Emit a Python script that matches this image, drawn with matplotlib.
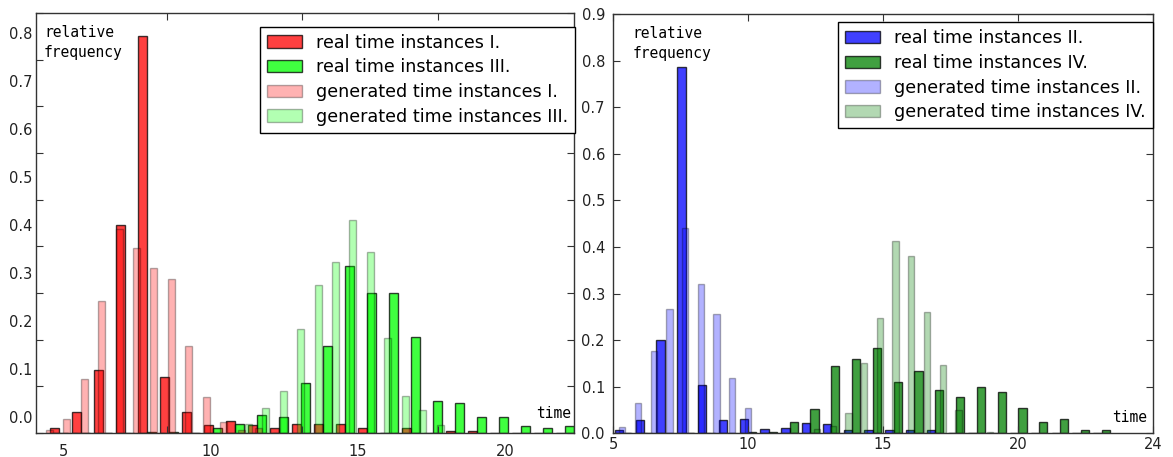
import numpy as np
import matplotlib
matplotlib.use("Agg")
import matplotlib.pyplot as plt

# ---------------- data ----------------
# left panel: real I / real III histograms (24 bins)
left_real_start, left_real_stop = 5.62, 25.08
real_I = [0.010, 0.044, 0.134, 0.446, 0.851, 0.1195, 0.044, 0.016, 0.025, 0.016,
          0.010, 0.019, 0.019, 0.019, 0.011, 0.0, 0.011, 0.0, 0.004, 0.004,
          0.0, 0.0, 0.0, 0.0]
real_III = [0.0, 0.0, 0.0, 0.0, 0.002, 0.002, 0.0, 0.010, 0.019, 0.038,
            0.034, 0.106, 0.186, 0.358, 0.300, 0.300, 0.206, 0.068, 0.063, 0.033,
            0.033, 0.0144, 0.0094, 0.0144]
# left panel: generated I / generated III histograms (24 bins)
left_gen_start, left_gen_stop = 5.48, 20.91
gen_I = [0.006, 0.030, 0.115, 0.283, 0.437, 0.396, 0.353, 0.330, 0.185, 0.077,
         0.024, 0.005, 0.010, 0.0, 0.0, 0.0, 0.0, 0.0, 0.0, 0.0,
         0.0, 0.0, 0.0, 0.0]
gen_III = [0.0, 0.0, 0.0, 0.0, 0.0, 0.0, 0.0, 0.0, 0.0, 0.0,
           0.0, 0.019, 0.054, 0.090, 0.222, 0.317, 0.366, 0.456, 0.388, 0.203,
           0.079, 0.049, 0.0165, 0.0]

# right panel: real II / real IV histograms (24 bins)
right_real_start, right_real_stop = 4.98, 23.48
real_II = [0.007, 0.028, 0.200, 0.787, 0.103, 0.028, 0.031, 0.010, 0.012, 0.023,
           0.019, 0.007, 0.007, 0.007, 0.007, 0.007, 0.0, 0.0, 0.0, 0.0,
           0.0, 0.0, 0.0, 0.0]
real_IV = [0.0, 0.0, 0.0, 0.0, 0.0, 0.0, 0.003, 0.003, 0.024, 0.052,
           0.144, 0.159, 0.184, 0.111, 0.134, 0.093, 0.078, 0.0987, 0.089, 0.054,
           0.0236, 0.0307, 0.007, 0.007]
# right panel: generated II / generated IV histograms (24 bins)
right_gen_start, right_gen_stop = 5.16, 19.13
gen_II = [0.014, 0.064, 0.177, 0.266, 0.440, 0.320, 0.255, 0.119, 0.054, 0.0,
          0.0, 0.0, 0.0, 0.0, 0.0, 0.0, 0.0, 0.0, 0.0, 0.0,
          0.0, 0.0, 0.0, 0.0]
gen_IV = [0.0, 0.0, 0.0, 0.0, 0.0, 0.0, 0.0, 0.0, 0.0, 0.0,
          0.0, 0.0, 0.010, 0.015, 0.044, 0.151, 0.247, 0.412, 0.380, 0.260,
          0.146, 0.050, 0.0, 0.002]

left_labels = ["real time instances I.", "real time instances III.",
               "generated time instances I.", "generated time instances III."]
right_labels = ["real time instances II.", "real time instances IV.",
                "generated time instances II.", "generated time instances IV."]

left_xtick_vals = [5, 10, 15, 20]
left_ytick_vals = [0.0, 0.1, 0.2, 0.3, 0.4, 0.5, 0.6, 0.7, 0.8]
right_xtick_vals = [5, 10, 15, 20, 25]
right_xtick_labels = ["5", "10", "15", "20", "24"]
right_ytick_vals = [0.0, 0.1, 0.2, 0.3, 0.4, 0.5, 0.6, 0.7, 0.8, 0.9]

# ---------------- figure ----------------
W, H = 1173, 457
fig = plt.figure(figsize=(W / 100, H / 100), dpi=100)
fig.patch.set_facecolor("white")


def px_rect(x0, y0, x1, y1):
    return [x0 / W, 1 - y1 / H, (x1 - x0) / W, (y1 - y0) / H]


def draw_hists(ax, start, stop, h1, h2, c1, c2, alpha, labels):
    edges = np.linspace(start, stop, len(h1) + 1)
    mids = 0.5 * (edges[:-1] + edges[1:])
    ax.hist([mids, mids], bins=edges, weights=[h1, h2], rwidth=0.8,
            color=[c1, c2], alpha=alpha, edgecolor="black", linewidth=1.0,
            label=labels)


def style_axes(ax):
    for s in ax.spines.values():
        s.set_color("#333333")
        s.set_linewidth(1.0)
    ax.tick_params(direction="in", top=True, right=True, length=5,
                   width=0.8, color="#333333")


def make_legend(ax, x_right, y_top):
    leg = ax.legend(loc="upper right", bbox_to_anchor=(x_right / W, 1 - y_top / H),
                    bbox_transform=fig.transFigure, borderaxespad=0,
                    fontsize=12.6, fancybox=False, framealpha=1,
                    labelspacing=0.38, borderpad=0.4)
    leg.get_frame().set_edgecolor("black")
    leg.get_frame().set_linewidth(1.0)
    return leg


mono = "DejaVu Sans Mono"

# ---- left panel ----
ax1 = fig.add_axes(px_rect(36.4, 13.3, 574, 432.7))
draw_hists(ax1, left_real_start, left_real_stop, real_I, real_III,
           "#ff0000", "#00ff00", 0.75, left_labels[:2])
draw_hists(ax1, left_gen_start, left_gen_stop, gen_I, gen_III,
           "#ff0000", "#00ff00", 0.3, left_labels[2:])
ax1.set_xlim(5.2, 25.0)
ax1.set_ylim(0, 0.9)
ax1.set_xticks([10, 15, 20])
ax1.set_yticks(right_ytick_vals)
ax1.set_xticklabels([])
ax1.set_yticklabels([])
style_axes(ax1)
ax1.text(0.0142, 0.972, "relative\nfrequency", transform=ax1.transAxes,
         family=mono, fontsize=10.5, va="top", ha="left", linespacing=1.45)
ax1.text(0.995, 0.045, "time", transform=ax1.transAxes, family=mono,
         fontsize=10.5, va="center", ha="right")
make_legend(ax1, 575, 26.7)

# label overlay for left panel (tick labels as rendered in the reference)
axl = fig.add_axes(px_rect(36.4, 13.3, 574, 432.7))
axl.patch.set_visible(False)
for s in axl.spines.values():
    s.set_visible(False)
axl.set_xlim(4.097, 22.345)
axl.set_ylim(-0.0333, 0.840)
axl.set_xticks(left_xtick_vals)
axl.set_xticklabels([str(v) for v in left_xtick_vals])
axl.set_yticks(left_ytick_vals)
axl.set_yticklabels(["%.1f" % v for v in left_ytick_vals])
axl.tick_params(axis="x", length=0, pad=8, labelsize=10.5, labelcolor="#222222")
axl.tick_params(axis="y", length=0, pad=3, labelsize=10.5, labelcolor="#222222")

# ---- right panel ----
ax2 = fig.add_axes(px_rect(613.3, 14, 1153, 433.3))
draw_hists(ax2, right_real_start, right_real_stop, real_II, real_IV,
           "#0000ff", "#008000", 0.75, right_labels[:2])
draw_hists(ax2, right_gen_start, right_gen_stop, gen_II, gen_IV,
           "#0000ff", "#008000", 0.3, right_labels[2:])
ax2.set_xlim(5, 25)
ax2.set_ylim(0, 0.9)
ax2.set_xticks(right_xtick_vals)
ax2.set_xticklabels(right_xtick_labels)
ax2.set_yticks(right_ytick_vals)
ax2.set_yticklabels(["%.1f" % v for v in right_ytick_vals])
style_axes(ax2)
ax2.tick_params(axis="x", pad=3, labelsize=10.5, labelcolor="#222222")
ax2.tick_params(axis="y", pad=6, labelsize=10.5, labelcolor="#222222")
ax2.text(0.035, 0.972, "relative\nfrequency", transform=ax2.transAxes,
         family=mono, fontsize=10.5, va="top", ha="left", linespacing=1.45)
ax2.text(0.99, 0.038, "time", transform=ax2.transAxes, family=mono,
         fontsize=10.5, va="center", ha="right")
make_legend(ax2, 1153, 22.3)

fig.savefig("out.png", dpi=100, facecolor="white")
